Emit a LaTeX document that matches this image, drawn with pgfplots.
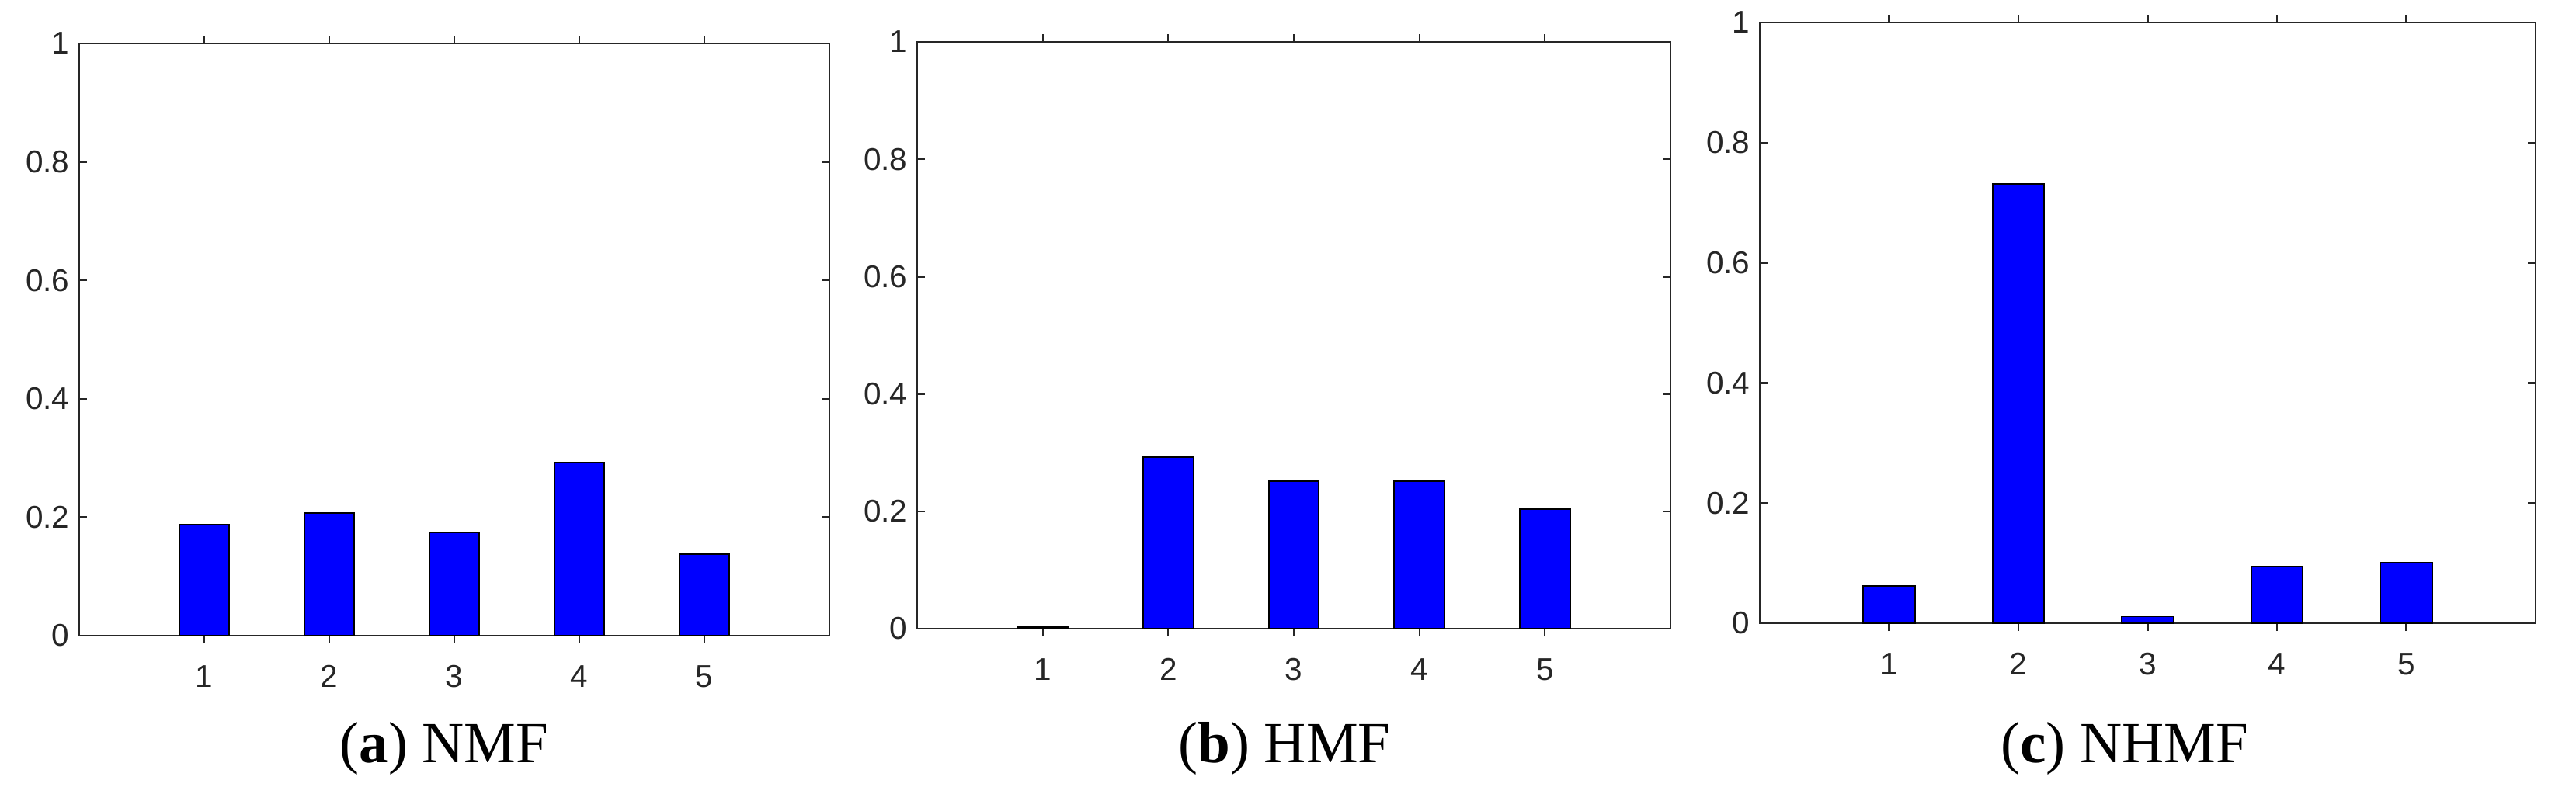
\documentclass[border=0pt]{standalone}
\usepackage{fontspec}
\setmainfont{Liberation Sans}
\newfontfamily\capfont{Liberation Serif}
\usepackage{pgfplots}
\pgfplotsset{compat=1.18}

\definecolor{axgray}{RGB}{38,38,38}

\pgfplotsset{
  matbar/.style={
    scale only axis,
    anchor=south west,
    xmin=0, xmax=6,
    ymin=0, ymax=1,
    xtick={1,2,3,4,5},
    ytick={0,0.2,0.4,0.6,0.8,1},
    tick align=inside,
    major tick length=2pt,
    axis line style={axgray, line width=0.55pt},
    every tick/.style={axgray, line width=0.45pt},
    tick label style={font=\fontsize{8.1}{9.5}\selectfont, text=axgray},
    xticklabel style={yshift=-2.2pt},
    yticklabel style={xshift=1pt},
    /pgf/number format/assume math mode=true,
    ybar,
    bar width=0.4,
  },
  matfill/.style={fill=blue, draw=black, line width=0.35pt},
}

\begin{document}
\begin{tikzpicture}
\path[use as bounding box] (0,0) rectangle (663.4pt,204.4pt);

% (a) NMF
\begin{axis}[matbar, at={(20.4pt,40.6pt)}, width=193.2pt, height=152.6pt]
\addplot[matfill] coordinates {(1,0.188) (2,0.207) (3,0.174) (4,0.292) (5,0.138)};
\end{axis}

% (b) HMF
\begin{axis}[matbar, at={(236.2pt,42.4pt)}, width=194pt, height=151.2pt]
\addplot[matfill] coordinates {(1,0.003) (2,0.292) (3,0.251) (4,0.251) (5,0.204)};
\end{axis}

% (c) NHMF
\begin{axis}[matbar, at={(453.2pt,43.8pt)}, width=199.8pt, height=154.8pt]
\addplot[matfill] coordinates {(1,0.062) (2,0.731) (3,0.011) (4,0.095) (5,0.101)};
\end{axis}

\node[anchor=base, inner sep=0pt, font=\capfont\fontsize{15}{18}\selectfont] at (114.4pt,8pt) {(\textbf{a}) NMF};
\node[anchor=base, inner sep=0pt, font=\capfont\fontsize{15}{18}\selectfont] at (330.8pt,8pt) {(\textbf{b}) HMF};
\node[anchor=base, inner sep=0pt, font=\capfont\fontsize{15}{18}\selectfont] at (547.2pt,8pt) {(\textbf{c}) NHMF};
\end{tikzpicture}
\end{document}
